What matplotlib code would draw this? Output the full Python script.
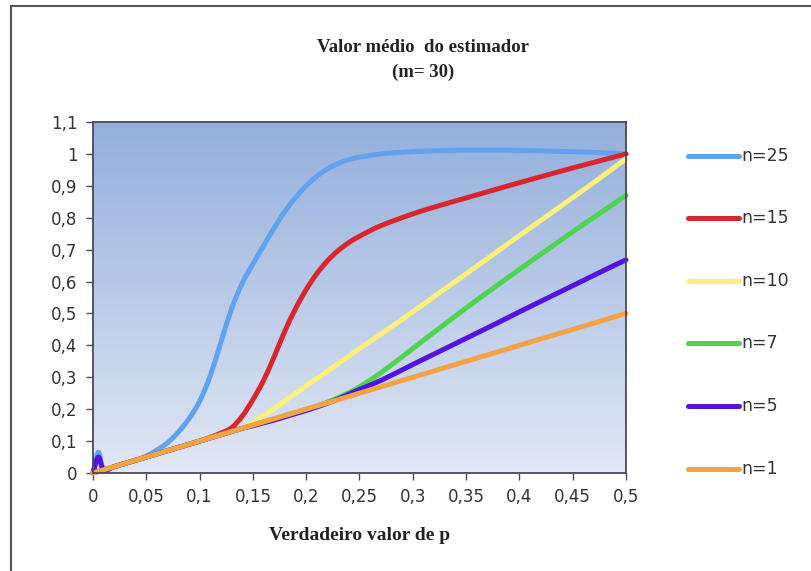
import numpy as np
import matplotlib
matplotlib.use("Agg")
import matplotlib.pyplot as plt
from matplotlib.lines import Line2D
from matplotlib.patches import Rectangle, PathPatch
from matplotlib.path import Path

# True value of p (shared grid for all series)
p = [0, 0.005, 0.01, 0.02, 0.03, 0.04, 0.05, 0.06, 0.07, 0.08, 0.09, 0.10,
     0.11, 0.12, 0.13, 0.14, 0.15, 0.16, 0.17, 0.18, 0.19, 0.20, 0.21, 0.22,
     0.23, 0.24, 0.25, 0.27, 0.30, 0.325, 0.35, 0.375, 0.40, 0.425, 0.45,
     0.475, 0.50]

# Mean value of the estimator for each n (m = 30)
n25 = [0, 0.065, 0.01, 0.02, 0.03, 0.04, 0.053, 0.072, 0.095, 0.128, 0.17, 0.225,
       0.305, 0.41, 0.515, 0.595, 0.655, 0.712, 0.768, 0.82, 0.863, 0.90, 0.93, 0.953,
       0.97, 0.982, 0.99, 1.0, 1.007, 1.01, 1.012, 1.012, 1.011, 1.009, 1.007,
       1.004, 1.0]
n15 = [0, 0.005, 0.01, 0.02, 0.03, 0.04, 0.05, 0.06, 0.07, 0.08, 0.09, 0.10,
       0.112, 0.125, 0.142, 0.178, 0.23, 0.29, 0.365, 0.445, 0.515, 0.575, 0.625, 0.665,
       0.697, 0.722, 0.742, 0.775, 0.812, 0.838, 0.862, 0.886, 0.91, 0.933, 0.956,
       0.978, 1.0]
n10 = [0, 0.005, 0.01, 0.02, 0.03, 0.04, 0.05, 0.06, 0.07, 0.08, 0.09, 0.10,
       0.11, 0.12, 0.13, 0.141, 0.158, 0.18, 0.203, 0.226, 0.25, 0.273, 0.296, 0.319,
       0.343, 0.366, 0.39, 0.435, 0.505, 0.565, 0.624, 0.684, 0.744, 0.803, 0.863,
       0.923, 0.985]
n7 = [0, 0.005, 0.01, 0.02, 0.03, 0.04, 0.05, 0.06, 0.07, 0.08, 0.09, 0.10,
      0.11, 0.12, 0.13, 0.14, 0.15, 0.16, 0.17, 0.18, 0.19, 0.20, 0.21, 0.222,
      0.236, 0.252, 0.27, 0.314, 0.39, 0.454, 0.517, 0.578, 0.638, 0.697, 0.756,
      0.813, 0.87]
n5 = [0, 0.05, 0.01, 0.02, 0.03, 0.04, 0.05, 0.06, 0.07, 0.08, 0.09, 0.10,
      0.11, 0.12, 0.13, 0.14, 0.148, 0.157, 0.166, 0.176, 0.186, 0.196, 0.207, 0.219,
      0.232, 0.247, 0.262, 0.29, 0.34, 0.381, 0.422, 0.463, 0.505, 0.546, 0.587,
      0.628, 0.668]
n1 = [0, 0.005, 0.01, 0.02, 0.03, 0.04, 0.05, 0.06, 0.07, 0.08, 0.09, 0.10,
      0.11, 0.12, 0.13, 0.14, 0.15, 0.16, 0.17, 0.18, 0.19, 0.20, 0.21, 0.22,
      0.23, 0.24, 0.25, 0.27, 0.30, 0.325, 0.35, 0.375, 0.40, 0.425, 0.45,
      0.475, 0.50]

labels = ["n=25", "n=15", "n=10", "n=7", "n=5", "n=1"]
series = [n25, n15, n10, n7, n5, n1]
colors = ["#60A2EE", "#D8262E", "#FBF07A", "#4ED44E", "#5212E0", "#F5A243"]

x_ticks = [0, 0.05, 0.1, 0.15, 0.2, 0.25, 0.3, 0.35, 0.4, 0.45, 0.5]
y_ticks = [0, 0.1, 0.2, 0.3, 0.4, 0.5, 0.6, 0.7, 0.8, 0.9, 1.0, 1.1]


def comma(v):
    s = f"{v:.2f}".rstrip("0").rstrip(".")
    return s.replace(".", ",")


def smooth_path(xs, ys):
    """Smoothed line through the points (Catmull-Rom as cubic Bezier segments)."""
    P = np.column_stack([xs, ys]).astype(float)
    n = len(P)
    verts = [P[0]]
    codes = [Path.MOVETO]
    for i in range(n - 1):
        p0 = P[i - 1] if i > 0 else P[i]
        p1, p2 = P[i], P[i + 1]
        p3 = P[i + 2] if i + 2 < n else P[i + 1]
        verts += [p1 + (p2 - p0) / 6, p2 - (p3 - p1) / 6, p2]
        codes += [Path.CURVE4] * 3
    return Path(verts, codes)


W, H = 812, 571
fig = plt.figure(figsize=(W / 100, H / 100), dpi=100)
fig.patch.set_facecolor("white")

# outer frame (left and top edges)
fig.patches.append(Rectangle((11 / W, -0.1), 1.2, 1.1 - 6 / H, transform=fig.transFigure,
                             fill=False, edgecolor="#555555", linewidth=1.5, zorder=0))

ax = fig.add_axes([93 / W, (H - 473) / H, (626 - 93) / W, (473 - 122) / H])

# vertical gradient background
top = np.array([148, 175, 220]) / 255
bot = np.array([225, 231, 244]) / 255
t = np.linspace(0, 1, 256)[:, None]
grad = (top[None, :] * (1 - t) + bot[None, :] * t)[:, None, :]
ax.imshow(grad, extent=[0, 0.5, 0, 1.1], aspect="auto", origin="upper", zorder=0)

for vals, c in zip(series, colors):
    ax.add_patch(PathPatch(smooth_path(p, vals), fill=False, edgecolor=c,
                           linewidth=3.6, capstyle="round", joinstyle="round",
                           zorder=2, clip_on=False))

ax.set_xlim(0, 0.5)
ax.set_ylim(0, 1.1)
ax.set_xticks(x_ticks)
ax.set_yticks(y_ticks)
ax.set_xticklabels([comma(v) for v in x_ticks])
ax.set_yticklabels([comma(v) for v in y_ticks])
ax.tick_params(axis="both", direction="out", length=5, width=1, colors="#4a4a55",
               labelcolor="#333333", labelsize=12)
ax.tick_params(axis="x", pad=6)
ax.tick_params(axis="y", pad=6)
for s in ax.spines.values():
    s.set_color("#4a4a55")
    s.set_linewidth(1.3)
    s.set_zorder(3)

serif = ["Liberation Serif", "DejaVu Serif"]
fig.text(423 / W, 1 - 48 / H, "Valor médio  do estimador", ha="center", va="center",
         fontsize=13.5, fontweight="bold", family=serif, color="#222222")
fig.text(423 / W, 1 - 72 / H, "(m= 30)", ha="center", va="center",
         fontsize=13.5, fontweight="bold", family=serif, color="#222222")
fig.text(360 / W, 1 - 536 / H, "Verdadeiro valor de p", ha="center", va="center",
         fontsize=14, fontweight="bold", family=serif, color="#222222")

# legend drawn as separate entries
leg_y = [156, 218, 281, 343, 406, 469]
for lab, c, yy in zip(labels, colors, leg_y):
    fy = 1 - yy / H
    fig.lines.append(Line2D([688 / W, 739 / W], [fy, fy], transform=fig.transFigure,
                            color=c, linewidth=3.6, solid_capstyle="round"))
    fig.text(741 / W, fy, lab, ha="left", va="center", fontsize=12.5, color="#333333")

fig.savefig("out.png", dpi=100)
